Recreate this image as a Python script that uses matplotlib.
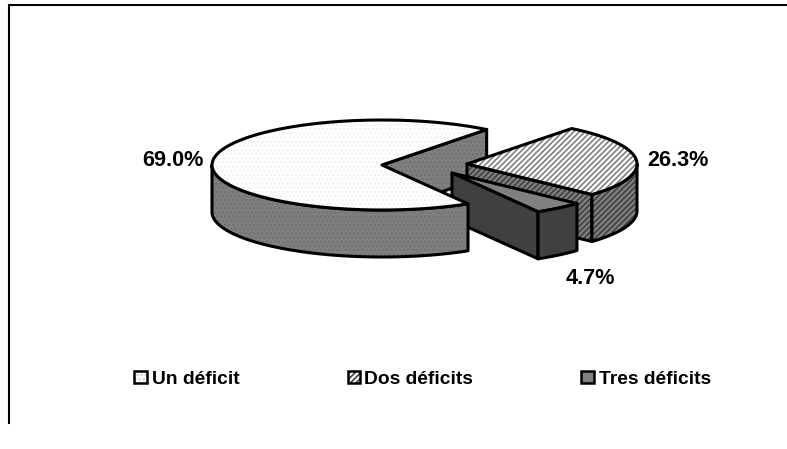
import numpy as np
import matplotlib
matplotlib.use("Agg")
import matplotlib.pyplot as plt
from matplotlib.patches import Polygon

plt.rcParams['font.family'] = ['Liberation Sans', 'DejaVu Sans']

categories = ['Un déficit', 'Dos déficits', 'Tres déficits']
values = [69.0, 26.3, 4.7]
value_labels = ['69.0%', '26.3%', '4.7%']

W, H = 787, 449
fig = plt.figure(figsize=(W / 100, H / 100), dpi=100)
ax = fig.add_axes([0, 0, 1, 1])
ax.set_xlim(0, W)
ax.set_ylim(H, 0)
ax.axis('off')

RX, RY, DEPTH = 170, 45, 47
END_BIG = 52.0
EDGE = 'black'
LW = 2.2

# slice angles from the values (clockwise, big slice ends at END_BIG)
sweeps = [v / sum(values) * 360 for v in values]
t_big = (END_BIG, END_BIG + sweeps[0])
t_dos = (END_BIG - sweeps[1], END_BIG)
t_tres = (t_dos[0] - sweeps[2], t_dos[0])

c_big = (382, 165)
c_dos = (467, 164)
c_tres = (452, 173)


def arc(c, t0, t1, n=80, dy=0):
    t = np.radians(np.linspace(t0, t1, n))
    return np.column_stack([c[0] + RX * np.cos(t), c[1] - RY * np.sin(t) + dy])


def face(pts, fc, hatch=None, hc=None, z=1, lw=LW, join='round'):
    ax.add_patch(Polygon(pts, closed=True, facecolor=fc, edgecolor='none', lw=0, zorder=z))
    if hatch:
        ax.add_patch(Polygon(pts, closed=True, facecolor='none', edgecolor=hc,
                             hatch=hatch, lw=0, zorder=z))
    ax.add_patch(Polygon(pts, closed=True, facecolor='none', edgecolor=EDGE, lw=lw,
                         joinstyle=join, zorder=z))


def wall(c, t, fc, hatch=None, hc=None, z=1):
    p = arc(c, t, t, 1)[0]
    pts = [c, p, (p[0], p[1] + DEPTH), (c[0], c[1] + DEPTH)]
    face(pts, fc, hatch, hc, z)


def outer(c, t0, t1, fc, hatch=None, hc=None, z=1):
    top = arc(c, t0, t1)
    bot = arc(c, t1, t0, dy=DEPTH)
    face(np.vstack([top, bot]), fc, hatch, hc, z)


def top(c, t0, t1, fc, hatch=None, hc=None, z=1):
    face(np.vstack([[c], arc(c, t0, t1)]), fc, hatch, hc, z)


GREY = '#808080'
DARK = '#404040'
plt.rcParams['hatch.linewidth'] = 1.2

# big slice: inner wall behind everything
wall(c_big, t_big[0], GREY, '....', '#727272', z=1)

# dos slice
wall(c_dos, t_dos[0], GREY, '//////', '#404040', z=2)
outer(c_dos, t_dos[0], 0, GREY, '//////', '#404040', z=2)
top(c_dos, t_dos[0], t_dos[1], 'white', '//////', '#808080', z=3)

# tres slice
top(c_tres, t_tres[0], t_tres[1], GREY, z=4)
wall(c_tres, t_tres[0], DARK, z=4)
outer(c_tres, t_tres[0], t_tres[1], DARK, z=4)

# big slice: outer side and top surface in front
outer(c_big, 180, t_big[1], GREY, '....', '#727272', z=5)
top(c_big, t_big[0], t_big[1], 'white', '....', '#f0f0f0', z=6)

# value labels
FS_LABEL = 15.6
FS_LEG = 13.9
ax.text(204, 166, value_labels[0], fontsize=FS_LABEL, fontweight='bold', ha='right', va='baseline')
ax.text(647, 166, value_labels[1], fontsize=FS_LABEL, fontweight='bold', ha='left', va='baseline')
ax.text(590, 284, value_labels[2], fontsize=FS_LABEL, fontweight='bold', ha='center', va='baseline')

# legend
swatch_x = [134, 347.5, 581]
text_x = [152, 364, 599]
swatch_style = [('white', '....', '#d0d0d0'), ('white', '//////', '#404040'), (GREY, None, None)]
for name, sx, tx, (fc, h, hc) in zip(categories, swatch_x, text_x, swatch_style):
    s = [(sx, 370.5), (sx + 12.5, 370.5), (sx + 12.5, 383), (sx, 383)]
    face(s, fc, h, hc, z=7, lw=1.8, join='miter')
    ax.text(tx, 384, name, fontsize=FS_LEG, fontweight='bold', ha='left', va='baseline')

# partial frame
ax.plot([8.5, 8.5, 787], [423, 5, 5], color='black', lw=1.5, solid_joinstyle='miter')

fig.savefig('out.png', dpi=100)
